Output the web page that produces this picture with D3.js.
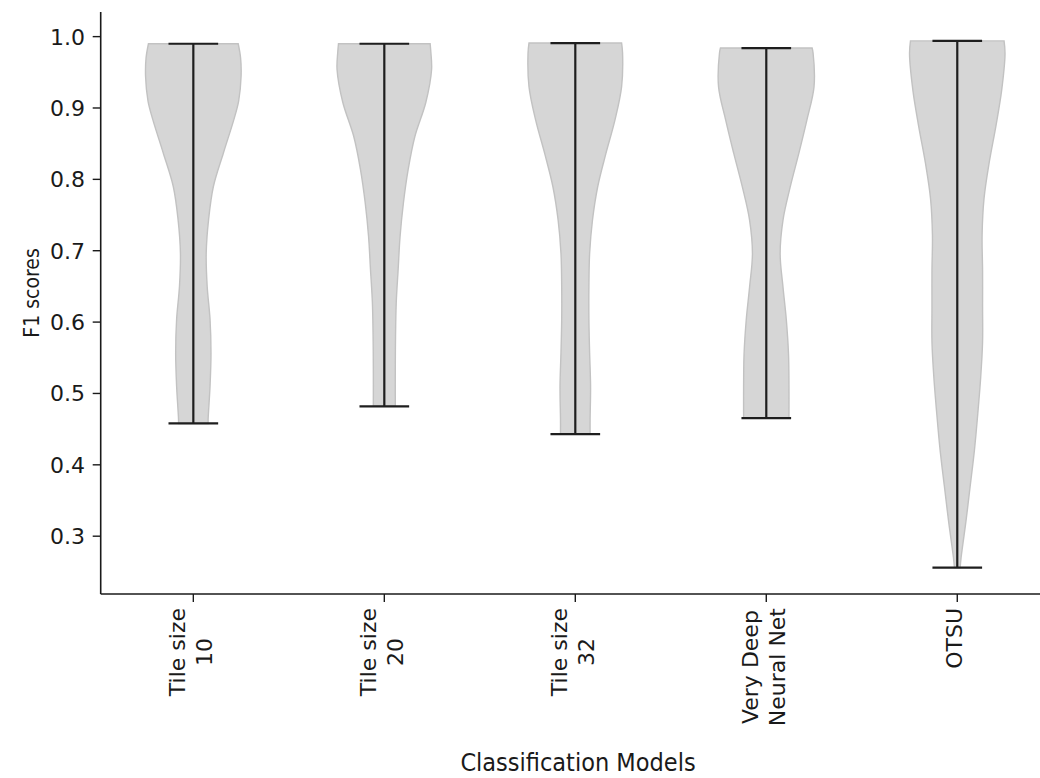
<!DOCTYPE html>
<html><head><meta charset="utf-8">
<script src="https://d3js.org/d3.v7.min.js"></script>
<style>body{margin:0;background:#fff} .tk{font-family:"DejaVu Sans";} .lb{font-family:"DejaVu Sans Condensed","DejaVu Sans";}</style>
</head><body>
<svg id="c" width="1040" height="778"></svg>
<script>
const categories = [["Tile size","10"],["Tile size","20"],["Tile size","32"],["Very Deep","Neural Net"],["OTSU"]];
const positions = [1,2,3,4,5];
const mins = [0.458, 0.482, 0.443, 0.4655, 0.256];
const maxs = [0.990, 0.990, 0.991, 0.984, 0.994];
// estimated density profile: [F1 value, relative width]
const density10 = [[0.990,0.94],[0.970,0.99],[0.944,1.0],[0.910,0.95],[0.884,0.85],[0.837,0.63],[0.790,0.42],[0.744,0.32],[0.697,0.27],[0.650,0.29],[0.604,0.35],[0.557,0.37],[0.510,0.35],[0.464,0.31],[0.458,0.31]];
const density20 = [[0.990,0.96],[0.978,0.975],[0.954,0.99],[0.908,0.87],[0.860,0.64],[0.814,0.50],[0.767,0.40],[0.720,0.33],[0.674,0.29],[0.628,0.25],[0.580,0.235],[0.534,0.23],[0.482,0.23]];
const density32 = [[0.991,0.97],[0.977,0.99],[0.930,0.97],[0.883,0.83],[0.836,0.64],[0.790,0.47],[0.743,0.36],[0.696,0.30],[0.650,0.285],[0.603,0.285],[0.557,0.30],[0.510,0.32],[0.463,0.31],[0.443,0.31]];
const densityVDNN = [[0.984,0.96],[0.977,0.98],[0.930,1.0],[0.883,0.85],[0.836,0.68],[0.789,0.50],[0.743,0.35],[0.696,0.29],[0.649,0.35],[0.603,0.42],[0.556,0.465],[0.509,0.475],[0.4655,0.475]];
const densityOTSU = [[0.994,0.98],[0.976,1.0],[0.925,0.93],[0.875,0.81],[0.824,0.67],[0.773,0.56],[0.722,0.52],[0.672,0.53],[0.621,0.53],[0.572,0.53],[0.522,0.49],[0.472,0.43],[0.421,0.36],[0.370,0.27],[0.320,0.18],[0.270,0.08],[0.256,0.06]];
const densities = [density10, density20, density32, densityVDNN, densityOTSU];
const yTicks = [0.3,0.4,0.5,0.6,0.7,0.8,0.9,1.0];

const svg = d3.select("#c");
const x = d3.scaleLinear().domain([0.515, 5.485]).range([100.7, 1049.9]);
const y = d3.scaleLinear().domain([0.219, 1.0345]).range([594, 12]);
const halfW = 0.25; // violin half width in x units
const capW = 0.13;

const g = svg.append("g");
densities.forEach((dens, i) => {
  const area = d3.area()
    .y(d => y(d[0]))
    .x0(d => x(positions[i] - halfW * d[1]))
    .x1(d => x(positions[i] + halfW * d[1]))
    .curve(d3.curveCatmullRom.alpha(0.5));
  g.append("path").attr("d", area(dens))
    .attr("fill", "#d6d6d6").attr("stroke", "#c2c2c2").attr("stroke-width", 1.4);
});
densities.forEach((dens, i) => {
  const cx = x(positions[i]);
  const lc = "#1e1e1e";
  g.append("line").attr("x1", cx).attr("x2", cx).attr("y1", y(mins[i])).attr("y2", y(maxs[i]))
    .attr("stroke", lc).attr("stroke-width", 2.2);
  [mins[i], maxs[i]].forEach(v => {
    g.append("line").attr("x1", x(positions[i]-capW)).attr("x2", x(positions[i]+capW))
      .attr("y1", y(v)).attr("y2", y(v)).attr("stroke", lc).attr("stroke-width", 2.2);
  });
});

// axes
const axisColor = "#1a1a1a";
svg.append("line").attr("x1", x.range()[0]).attr("x2", x.range()[0]).attr("y1", y.range()[1]).attr("y2", y.range()[0])
  .attr("stroke", axisColor).attr("stroke-width", 1.6);
svg.append("line").attr("x1", x.range()[0]).attr("x2", 1040).attr("y1", y.range()[0]).attr("y2", y.range()[0])
  .attr("stroke", axisColor).attr("stroke-width", 1.6);

yTicks.forEach(t => {
  svg.append("line").attr("x1", x.range()[0]-8).attr("x2", x.range()[0]).attr("y1", y(t)).attr("y2", y(t))
    .attr("stroke", axisColor).attr("stroke-width", 1.4);
  svg.append("text").attr("class", "tk").attr("x", 85).attr("y", y(t)).attr("dy", "0.36em")
    .attr("text-anchor", "end").attr("font-size", 22).attr("fill", "#1a1a1a")
    .text(t.toFixed(1));
});
positions.forEach((p, i) => {
  const cx = x(p);
  svg.append("line").attr("x1", cx).attr("x2", cx).attr("y1", y.range()[0]).attr("y2", y.range()[0]+8)
    .attr("stroke", axisColor).attr("stroke-width", 1.4);
  const lines = categories[i];
  const lh = 27;
  const tg = svg.append("g");
  const texts = lines.map((s, k) => tg.append("text").attr("class", "tk").attr("font-size", 22)
    .attr("fill", "#1a1a1a").attr("text-anchor", "middle").text(s));
  const maxLen = d3.max(texts, t => t.node().getComputedTextLength());
  const top = 608;
  const cyBlock = top + maxLen / 2;
  const n = lines.length;
  texts.forEach((t, k) => {
    const xx = cx - 3 + (k - (n - 1) / 2) * lh;
    t.attr("transform", `translate(${xx + 8},${cyBlock}) rotate(-90)`);
  });
});

svg.append("text").attr("class", "lb").attr("x", 578).attr("y", 771).attr("text-anchor", "middle")
  .attr("font-size", 25).attr("fill", "#1a1a1a")
  .text("Classification Models");
svg.append("text").attr("class", "lb").attr("transform", "translate(39,293) rotate(-90)").attr("text-anchor", "middle")
  .attr("font-size", 21).attr("fill", "#1a1a1a")
  .text("F1 scores");
</script>
</body></html>
